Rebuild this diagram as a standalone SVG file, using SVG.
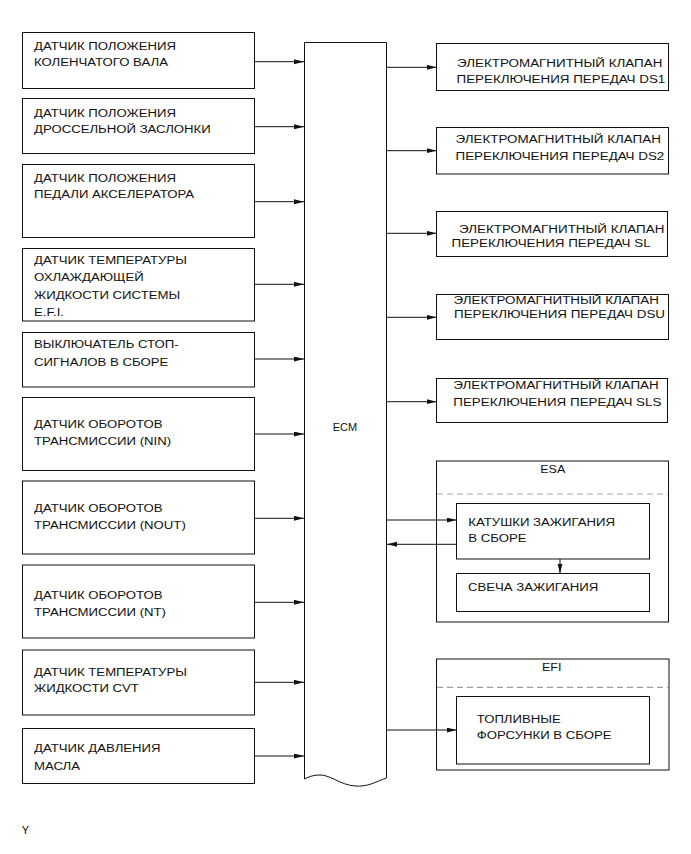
<svg xmlns="http://www.w3.org/2000/svg" width="691" height="854" viewBox="0 0 691 854">
<style>
.box{fill:#fff;stroke:#111;stroke-width:1}
.t{font-family:"Liberation Sans",Arial,sans-serif;font-size:11px;fill:#111}
.c{stroke:#111;stroke-width:1;fill:none}
.d{stroke:#aaa;stroke-width:1.2;stroke-dasharray:6 4;fill:none}
</style>
<defs>
<marker id="ah" markerUnits="userSpaceOnUse" markerWidth="10" markerHeight="6" refX="10" refY="2.5" orient="auto">
<path d="M0,0 L10,2.5 L0,5 z" fill="#111"/>
</marker>
</defs>
<rect width="691" height="854" fill="#fff"/>

<g id="ecm">
<path class="box" d="M304.5,42.5 H386.5 V778 C375,782 368,787 355,786 C340,785 330,774 318,775 C312,775.5 308,777 304.5,779 Z"/>
<text class="t" x="345" y="431" text-anchor="middle" font-size="13.2">ECM</text>
</g>

<g id="in1"><rect class="box" x="22.5" y="32.5" width="232" height="56"/>
<g transform="translate(34 0) scale(1.2 1)"><text class="t" y="50">ДАТЧИК ПОЛОЖЕНИЯ</text><text class="t" y="66.5">КОЛЕНЧАТОГО ВАЛА</text></g></g>
<g id="in2"><rect class="box" x="22.5" y="98.5" width="232" height="55"/>
<g transform="translate(34 0) scale(1.2 1)"><text class="t" y="117">ДАТЧИК ПОЛОЖЕНИЯ</text><text class="t" y="133.5">ДРОССЕЛЬНОЙ ЗАСЛОНКИ</text></g></g>
<g id="in3"><rect class="box" x="22.5" y="164.5" width="232" height="73"/>
<g transform="translate(34 0) scale(1.2 1)"><text class="t" y="181.7">ДАТЧИК ПОЛОЖЕНИЯ</text><text class="t" y="198.3">ПЕДАЛИ АКСЕЛЕРАТОРА</text></g></g>
<g id="in4"><rect class="box" x="22.5" y="248.5" width="232" height="72.5"/>
<g transform="translate(34 0) scale(1.2 1)"><text class="t" y="264.3">ДАТЧИК ТЕМПЕРАТУРЫ</text><text class="t" y="281.5">ОХЛАЖДАЮЩЕЙ</text><text class="t" y="298.7">ЖИДКОСТИ СИСТЕМЫ</text><text class="t" y="315.8">E.F.I.</text></g></g>
<g id="in5"><rect class="box" x="22.5" y="332.5" width="232" height="54.5"/>
<g transform="translate(34 0) scale(1.2 1)"><text class="t" y="348.5">ВЫКЛЮЧАТЕЛЬ СТОП-</text><text class="t" y="365.8">СИГНАЛОВ В СБОРЕ</text></g></g>
<g id="in6"><rect class="box" x="22.5" y="397.5" width="232" height="73"/>
<g transform="translate(34 0) scale(1.2 1)"><text class="t" y="428">ДАТЧИК ОБОРОТОВ</text><text class="t" y="445.5">ТРАНСМИССИИ (NIN)</text></g></g>
<g id="in7"><rect class="box" x="22.5" y="481" width="232" height="73"/>
<g transform="translate(34 0) scale(1.2 1)"><text class="t" y="511.8">ДАТЧИК ОБОРОТОВ</text><text class="t" y="529">ТРАНСМИССИИ (NOUT)</text></g></g>
<g id="in8"><rect class="box" x="22.5" y="565" width="232" height="73"/>
<g transform="translate(34 0) scale(1.2 1)"><text class="t" y="599.3">ДАТЧИК ОБОРОТОВ</text><text class="t" y="616.5">ТРАНСМИССИИ (NT)</text></g></g>
<g id="in9"><rect class="box" x="22.5" y="650" width="232" height="65"/>
<g transform="translate(34 0) scale(1.2 1)"><text class="t" y="676">ДАТЧИК ТЕМПЕРАТУРЫ</text><text class="t" y="692.5">ЖИДКОСТИ CVT</text></g></g>
<g id="in10"><rect class="box" x="22.5" y="728.5" width="232" height="55"/>
<g transform="translate(34 0) scale(1.2 1)"><text class="t" y="752.5">ДАТЧИК ДАВЛЕНИЯ</text><text class="t" y="770">МАСЛА</text></g></g>

<g id="ds1"><rect class="box" x="436.5" y="43.5" width="232" height="47"/>
<text class="t" transform="translate(457 0) scale(1.22 1)" y="66.7">ЭЛЕКТРОМАГНИТНЫЙ КЛАПАН</text><text class="t" transform="translate(456.5 0) scale(1.22 1)" y="83.3">ПЕРЕКЛЮЧЕНИЯ ПЕРЕДАЧ DS1</text></g>
<g id="ds2"><rect class="box" x="436.5" y="127.5" width="232" height="46.5"/>
<text class="t" transform="translate(455.5 0) scale(1.22 1)" y="143.3">ЭЛЕКТРОМАГНИТНЫЙ КЛАПАН</text><text class="t" transform="translate(455.5 0) scale(1.22 1)" y="160">ПЕРЕКЛЮЧЕНИЯ ПЕРЕДАЧ DS2</text></g>
<g id="sl"><rect class="box" x="436.5" y="211.5" width="231" height="45"/>
<text class="t" transform="translate(459 0) scale(1.22 1)" y="232.7">ЭЛЕКТРОМАГНИТНЫЙ КЛАПАН</text><text class="t" transform="translate(451.5 0) scale(1.22 1)" y="246.7">ПЕРЕКЛЮЧЕНИЯ ПЕРЕДАЧ SL</text></g>
<g id="dsu"><rect class="box" x="436.5" y="294.5" width="232" height="45"/>
<text class="t" transform="translate(453.5 0) scale(1.22 1)" y="304.3">ЭЛЕКТРОМАГНИТНЫЙ КЛАПАН</text><text class="t" transform="translate(454 0) scale(1.22 1)" y="318.5">ПЕРЕКЛЮЧЕНИЯ ПЕРЕДАЧ DSU</text></g>
<g id="sls"><rect class="box" x="436.5" y="378.5" width="231" height="44"/>
<text class="t" transform="translate(453.3 0) scale(1.22 1)" y="389">ЭЛЕКТРОМАГНИТНЫЙ КЛАПАН</text><text class="t" transform="translate(453.3 0) scale(1.22 1)" y="405.7">ПЕРЕКЛЮЧЕНИЯ ПЕРЕДАЧ SLS</text></g>

<g id="esa"><rect class="box" x="436.5" y="461" width="232" height="161"/>
<text class="t" transform="translate(552.7 0) scale(1.14 1)" y="473.3" text-anchor="middle">ESA</text>
<line class="d" x1="437" y1="494" x2="668" y2="494"/></g>
<g id="coil"><rect class="box" x="456.5" y="503.5" width="193" height="55.5"/>
<g transform="translate(468.3 0) scale(1.2 1)"><text class="t" y="525.7">КАТУШКИ ЗАЖИГАНИЯ</text><text class="t" y="542.3">В СБОРЕ</text></g></g>
<g id="plug"><rect class="box" x="456.5" y="573.5" width="193" height="38"/>
<text class="t" transform="translate(468 0) scale(1.2 1)" y="590.7">СВЕЧА ЗАЖИГАНИЯ</text></g>

<g id="efi"><rect class="box" x="436.5" y="659" width="232.5" height="111"/>
<text class="t" transform="translate(551.7 0) scale(1.14 1)" y="670.7" text-anchor="middle">EFI</text>
<line class="d" x1="437" y1="687.3" x2="669" y2="687.3" style="stroke:#888;stroke-width:1"/></g>
<g id="inj"><rect class="box" x="456.5" y="696.5" width="193" height="67.5"/>
<g transform="translate(476.7 0) scale(1.2 1)"><text class="t" y="723.3">ТОПЛИВНЫЕ</text><text class="t" y="739">ФОРСУНКИ В СБОРЕ</text></g></g>

<g id="connectors">
<line class="c" x1="255" y1="61.7" x2="304" y2="61.7" marker-end="url(#ah)"/>
<line class="c" x1="255" y1="126.7" x2="304" y2="126.7" marker-end="url(#ah)"/>
<line class="c" x1="255" y1="201.7" x2="304" y2="201.7" marker-end="url(#ah)"/>
<line class="c" x1="255" y1="284.3" x2="304" y2="284.3" marker-end="url(#ah)"/>
<line class="c" x1="255" y1="359" x2="304" y2="359" marker-end="url(#ah)"/>
<line class="c" x1="255" y1="434" x2="304" y2="434" marker-end="url(#ah)"/>
<line class="c" x1="255" y1="518.3" x2="304" y2="518.3" marker-end="url(#ah)"/>
<line class="c" x1="255" y1="602.3" x2="304" y2="602.3" marker-end="url(#ah)"/>
<line class="c" x1="255" y1="682.3" x2="304" y2="682.3" marker-end="url(#ah)"/>
<line class="c" x1="255" y1="756" x2="304" y2="756" marker-end="url(#ah)"/>
<line class="c" x1="387" y1="67.3" x2="436.5" y2="67.3" marker-end="url(#ah)"/>
<line class="c" x1="387" y1="150.7" x2="436.5" y2="150.7" marker-end="url(#ah)"/>
<line class="c" x1="387" y1="233.3" x2="436.5" y2="233.3" marker-end="url(#ah)"/>
<line class="c" x1="387" y1="317.3" x2="436.5" y2="317.3" marker-end="url(#ah)"/>
<line class="c" x1="387" y1="401.7" x2="436.5" y2="401.7" marker-end="url(#ah)"/>
<line class="c" x1="387" y1="520" x2="456.5" y2="520" marker-end="url(#ah)"/>
<line class="c" x1="456.5" y1="544.3" x2="387" y2="544.3" marker-end="url(#ah)"/>
<line class="c" x1="560" y1="559" x2="560" y2="573.5" marker-end="url(#ah)"/>
<line class="c" x1="387" y1="730" x2="456.5" y2="730" marker-end="url(#ah)"/>
</g>

<text class="t" x="21.7" y="834" font-size="9.5">Y</text>
</svg>
